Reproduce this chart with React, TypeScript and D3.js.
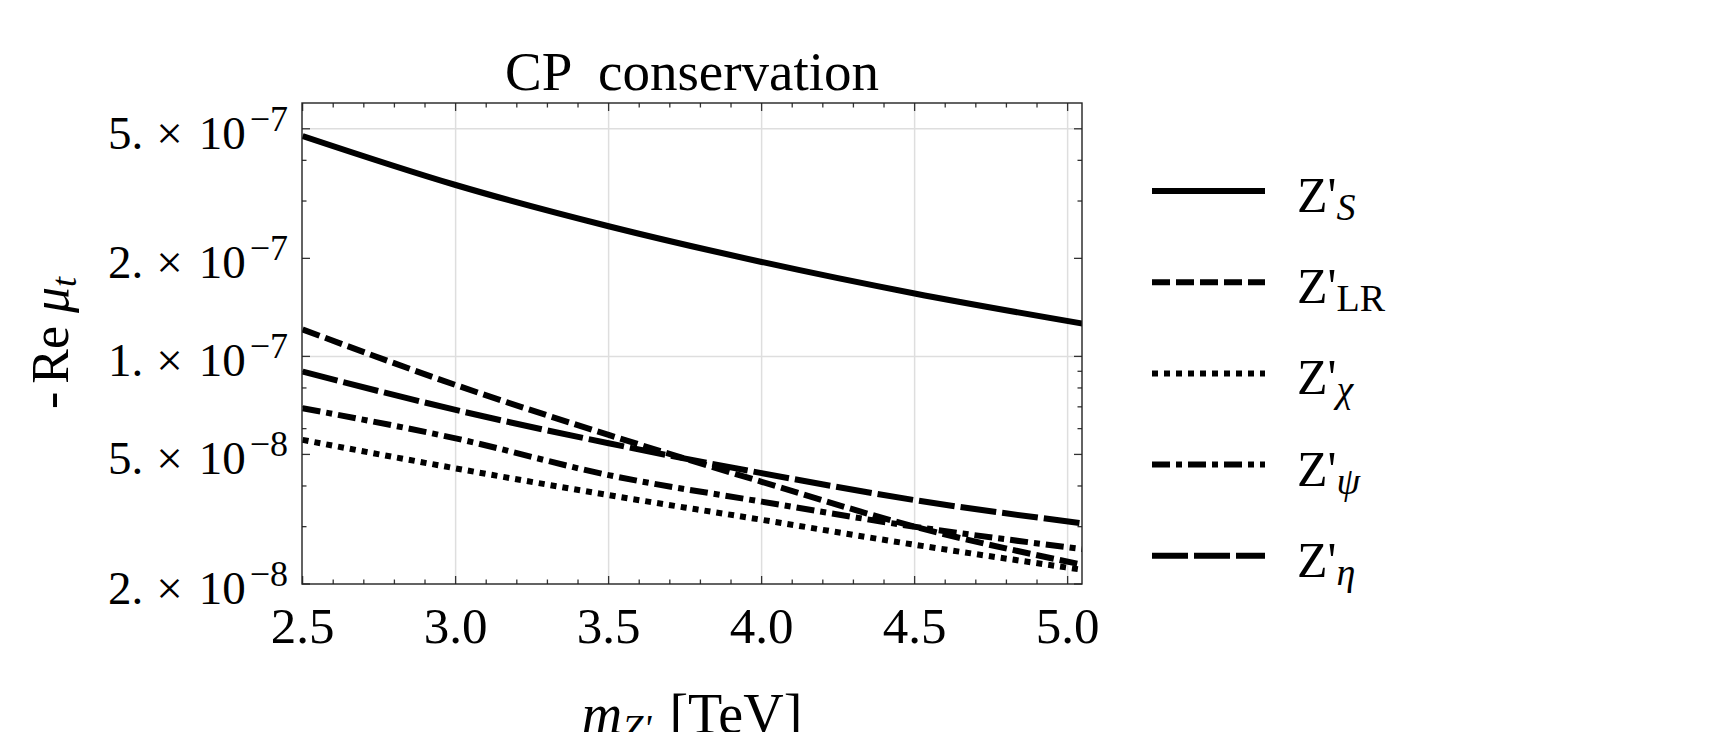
import React from "react";
import * as d3 from "d3";

// Z' mass in TeV
const masses = [2.5, 3.0, 3.5, 4.0, 4.5, 5.05];

// -Re mu_t, one array per model
const zS = [4.75e-7, 3.36e-7, 2.51e-7, 1.95e-7, 1.56e-7, 1.26e-7];
const zLR = [1.21e-7, 8.17e-8, 5.74e-8, 4.12e-8, 3.0e-8, 2.29e-8];
const zChi = [5.54e-8, 4.53e-8, 3.75e-8, 3.15e-8, 2.64e-8, 2.21e-8];
const zPsi = [6.93e-8, 5.6e-8, 4.32e-8, 3.58e-8, 3.0e-8, 2.56e-8];
const zEta = [8.98e-8, 6.85e-8, 5.41e-8, 4.38e-8, 3.62e-8, 3.07e-8];

const subLabels = ["S", "LR", "χ", "ψ", "η"];

const xTickLabels = ["2.5", "3.0", "3.5", "4.0", "4.5", "5.0"];
const yMajor = [2e-8, 5e-8, 1e-7, 2e-7, 5e-7];
const yMinor = [3e-8, 4e-8, 6e-8, 7e-8, 8e-8, 9e-8, 3e-7, 4e-7];
const yGrid = [1e-7, 5e-7];

const W = 1716;
const H = 732;
const left = 302;
const right = 1082;
const top = 103;
const bottom = 584;
const font = "'Liberation Serif', 'Times New Roman', serif";

const series = [
  { vals: zS, dash: null },
  { vals: zLR, dash: "18 6" },
  { vals: zChi, dash: "6 6" },
  { vals: zPsi, dash: "18 6 6 6" },
  { vals: zEta, dash: "36 6" },
];

export default function App() {
  const x = d3.scaleLinear().domain([2.498, 5.047]).range([left, right]);
  const y = d3.scaleLog().domain([2e-8, 6e-7]).range([bottom, top]);

  const line = d3
    .line<number>()
    .x((d, i) => x(masses[i]))
    .y(d => y(d))
    .curve(d3.curveMonotoneX);

  const xMinor = d3.range(25, 51).map(v => v / 10);
  const xMajor = xTickLabels.map(Number);

  const supOf = (v: number) => {
    const e = Math.floor(Math.log10(v) + 1e-9);
    const m = Math.round(v / Math.pow(10, e));
    return { m: m + ".", e: "−" + Math.abs(e) };
  };

  return (
    <svg
      width={W}
      height={H}
      style={{ position: "absolute", left: 0, top: 0, background: "#fff" }}
      fontFamily={font}
    >
      <defs>
        <clipPath id="plotclip">
          <rect x={left} y={top} width={right - left} height={bottom - top} />
        </clipPath>
      </defs>

      {/* grid */}
      {xMajor.slice(1).map(v => (
        <line key={"gx" + v} x1={x(v)} x2={x(v)} y1={top} y2={bottom} stroke="#dedede" strokeWidth={1.5} />
      ))}
      {yGrid.map(v => (
        <line key={"gy" + v} x1={left} x2={right} y1={y(v)} y2={y(v)} stroke="#dedede" strokeWidth={1.5} />
      ))}

      {/* ticks */}
      {xMinor.map(v => {
        const major = xMajor.some(m => Math.abs(m - v) < 1e-6);
        const len = major ? 8 : 4.5;
        return (
          <g key={"tx" + v} stroke="#333" strokeWidth={1.3}>
            <line x1={x(v)} x2={x(v)} y1={bottom} y2={bottom - len} />
            <line x1={x(v)} x2={x(v)} y1={top} y2={top + len} />
          </g>
        );
      })}
      {yMajor.concat(yMinor).map(v => {
        const len = yMajor.includes(v) ? 8 : 4.5;
        return (
          <g key={"ty" + v} stroke="#333" strokeWidth={1.3}>
            <line x1={left} x2={left + len} y1={y(v)} y2={y(v)} />
            <line x1={right} x2={right - len} y1={y(v)} y2={y(v)} />
          </g>
        );
      })}

      {/* curves */}
      <g clipPath="url(#plotclip)">
        {series.map((s, i) => (
          <path
            key={"c" + i}
            d={line(s.vals) || ""}
            fill="none"
            stroke="#000"
            strokeWidth={6}
            strokeDasharray={s.dash || undefined}
            strokeLinejoin="round"
          />
        ))}
      </g>

      {/* frame */}
      <rect x={left} y={top} width={right - left} height={bottom - top} fill="none" stroke="#222" strokeWidth={1.4} />

      {/* x tick labels */}
      {xTickLabels.map(t => (
        <text key={"xl" + t} x={x(Number(t))} y={643} fontSize={51} textAnchor="middle">
          {t}
        </text>
      ))}

      {/* y tick labels */}
      {yMajor.map(v => {
        const p = supOf(v);
        return (
          <text key={"yl" + v} x={288} y={y(v) + 20} fontSize={47} textAnchor="end">
            <tspan>{p.m}</tspan>
            <tspan dx={13}>×</tspan>
            <tspan dx={16}>10</tspan>
            <tspan dx={4} dy={-18} fontSize={36}>{p.e}</tspan>
          </text>
        );
      })}

      {/* title */}
      <text x={(left + right) / 2} y={90} fontSize={55} textAnchor="middle">
        <tspan>CP</tspan>
        <tspan dx={14}> conservation</tspan>
      </text>

      {/* axis labels */}
      <text x={(left + right) / 2} y={733} fontSize={56} textAnchor="middle">
        <tspan fontStyle="italic">m</tspan>
        <tspan fontStyle="italic" fontSize={38} dy={8}>Z'</tspan>
        <tspan dy={-8} dx={4}> [TeV]</tspan>
      </text>
      <text transform="translate(68,343) rotate(-90)" fontSize={52} textAnchor="middle">
        <tspan>-</tspan>
        <tspan dx={8}>Re</tspan>
        <tspan dx={13} fontStyle="italic">μ</tspan>
        <tspan fontStyle="italic" fontSize={36} dy={8}>t</tspan>
      </text>

      {/* legend */}
      {series.map((s, i) => {
        const ly = 191 + i * 91.2;
        const sub = subLabels[i];
        const roman = sub === "LR";
        return (
          <g key={"lg" + i}>
            <line
              x1={1152}
              x2={1265}
              y1={ly}
              y2={ly}
              stroke="#000"
              strokeWidth={6}
              strokeDasharray={s.dash || undefined}
            />
            <text x={1297} y={ly + 21} fontSize={50}>
              <tspan>Z'</tspan>
              <tspan dy={8} fontSize={38} fontStyle={roman ? "normal" : "italic"}>
                {sub}
              </tspan>
            </text>
          </g>
        );
      })}
    </svg>
  );
}
